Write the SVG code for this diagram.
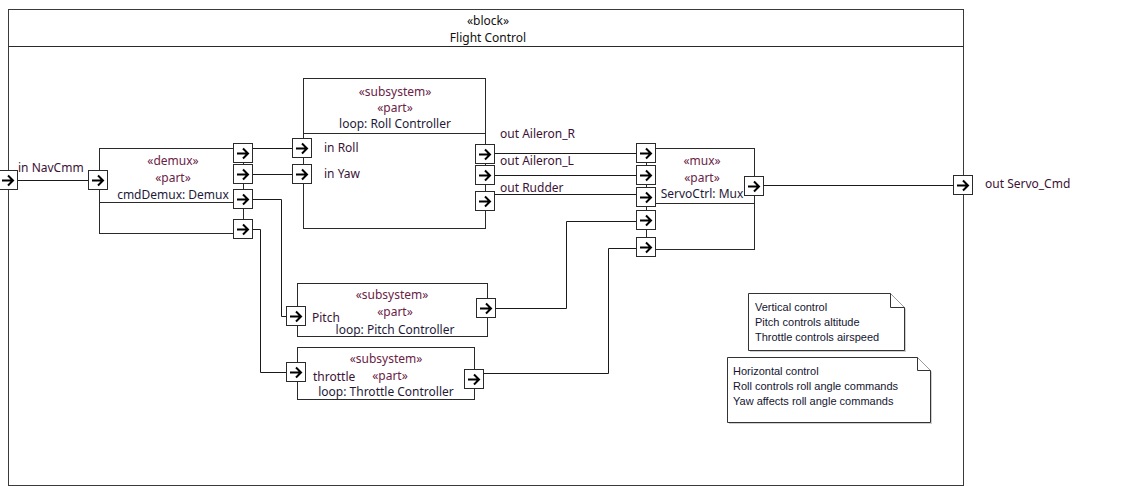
<svg xmlns="http://www.w3.org/2000/svg" xmlns:xlink="http://www.w3.org/1999/xlink" width="1134" height="486" viewBox="0 0 1134 486">
  <style>
    .frame { fill: #ffffff; stroke: #3a3a3a; stroke-width: 1; }
    .box { fill: #ffffff; stroke: #2a2a2a; stroke-width: 1; }
    .sep { fill: none; stroke: #2a2a2a; stroke-width: 1; }
    .conn { fill: none; stroke: #1a1a1a; stroke-width: 1; }
    .t { font-family: "Noto Sans", "DejaVu Sans", sans-serif; font-size: 12px; fill: #1e1a3a; }
    .st { font-family: "Noto Sans", "DejaVu Sans", sans-serif; font-size: 12px; fill: #6a2346; }
    .pl { font-family: "Noto Sans", "DejaVu Sans", sans-serif; font-size: 12px; fill: #3c1236; }
    .hd { font-family: "Noto Sans", "DejaVu Sans", sans-serif; font-size: 12px; fill: #111111; }
    .c { text-anchor: middle; }
    .note { fill: #ffffff; stroke: #333333; stroke-width: 1; }
    .shadow { fill: #cfcfcf; stroke: none; }
    .nt { font-family: "Liberation Sans", Arial, sans-serif; font-size: 11px; fill: #141430; }
  </style>
  <defs>
    <g id="port">
      <rect x="0.5" y="0.5" width="19" height="19" fill="#ffffff" stroke="#2a2a2a" stroke-width="1"/>
      <path d="M4 10.5H15M10 5.5L15 10.5L10 15.5" fill="none" stroke="#000000" stroke-width="2"/>
    </g>
  </defs>

  <!-- outer block frame -->
  <g id="flight-control">
    <rect class="frame" x="8.5" y="9.5" width="955" height="476"/>
    <line class="sep" x1="8.5" y1="46.5" x2="963.5" y2="46.5"/>
    <text class="hd c" x="488" y="25">«block»</text>
    <text class="hd c" x="488" y="42">Flight Control</text>
  </g>

  <!-- connectors -->
  <g id="connectors">
    <path class="conn" d="M18 180.5H88"/>
    <path class="conn" d="M253 148.5H292"/>
    <path class="conn" d="M253 174.5H292"/>
    <path class="conn" d="M253 199.5H281.5V316.5H286"/>
    <path class="conn" d="M253 229.5H260.5V372.5H286"/>
    <path class="conn" d="M495 153.5H636"/>
    <path class="conn" d="M495 175.5H636"/>
    <path class="conn" d="M495 194.5H636"/>
    <path class="conn" d="M496 308.5H566.5V221.5H636"/>
    <path class="conn" d="M484 373.5H608.5V248.5H636"/>
    <path class="conn" d="M764 185.5H953"/>
  </g>

  <!-- frame ports -->
  <g id="port-in-navcmm">
    <use xlink:href="#port" x="-2" y="170"/>
    <text class="pl" x="18" y="172">in NavCmm</text>
  </g>
  <g id="port-out-servo-cmd">
    <use xlink:href="#port" x="953" y="175"/>
    <text class="pl" x="985" y="188">out Servo_Cmd</text>
  </g>

  <!-- demux -->
  <g id="cmdDemux">
    <rect class="box" x="99.5" y="148.5" width="144" height="85"/>
    <line class="sep" x1="99.5" y1="202.5" x2="243.5" y2="202.5"/>
    <text class="st c" x="173" y="165">«demux»</text>
    <text class="st c" x="173" y="182">«part»</text>
    <text class="t c" x="173" y="199">cmdDemux: Demux</text>
    <use xlink:href="#port" x="88" y="170"/>
    <use xlink:href="#port" x="233" y="143"/>
    <use xlink:href="#port" x="233" y="164"/>
    <use xlink:href="#port" x="233" y="189"/>
    <use xlink:href="#port" x="233" y="219"/>
  </g>

  <!-- roll controller -->
  <g id="roll-controller">
    <rect class="box" x="303.5" y="78.5" width="182" height="150"/>
    <line class="sep" x1="303.5" y1="133.5" x2="485.5" y2="133.5"/>
    <text class="st c" x="395" y="96">«subsystem»</text>
    <text class="st c" x="395" y="112">«part»</text>
    <text class="t c" x="395" y="128">loop: Roll Controller</text>
    <use xlink:href="#port" x="292" y="138"/>
    <use xlink:href="#port" x="292" y="164"/>
    <text class="pl" x="324" y="152">in Roll</text>
    <text class="pl" x="324" y="178">in Yaw</text>
    <use xlink:href="#port" x="475" y="144"/>
    <use xlink:href="#port" x="475" y="165"/>
    <use xlink:href="#port" x="475" y="191"/>
    <text class="pl" x="500" y="138">out Aileron_R</text>
    <text class="pl" x="500" y="165">out Aileron_L</text>
    <text class="pl" x="500" y="192">out Rudder</text>
  </g>

  <!-- mux -->
  <g id="servoCtrl">
    <rect class="box" x="646.5" y="148.5" width="108" height="101"/>
    <line class="sep" x1="646.5" y1="203.5" x2="754.5" y2="203.5"/>
    <text class="st c" x="702" y="165">«mux»</text>
    <text class="st c" x="702" y="182">«part»</text>
    <text class="t c" x="702" y="198">ServoCtrl: Mux</text>
    <use xlink:href="#port" x="636" y="143"/>
    <use xlink:href="#port" x="636" y="165"/>
    <use xlink:href="#port" x="636" y="187"/>
    <use xlink:href="#port" x="636" y="210"/>
    <use xlink:href="#port" x="636" y="237"/>
    <use xlink:href="#port" x="744" y="176"/>
  </g>

  <!-- pitch controller -->
  <g id="pitch-controller">
    <rect class="box" x="297.5" y="283.5" width="190" height="53"/>
    <text class="st c" x="392" y="299">«subsystem»</text>
    <text class="st c" x="395" y="316">«part»</text>
    <text class="t c" x="395" y="334">loop: Pitch Controller</text>
    <use xlink:href="#port" x="286" y="306"/>
    <text class="pl" x="312" y="322">Pitch</text>
    <use xlink:href="#port" x="476" y="298"/>
  </g>

  <!-- throttle controller -->
  <g id="throttle-controller">
    <rect class="box" x="297.5" y="347.5" width="177" height="52"/>
    <text class="st c" x="386" y="363">«subsystem»</text>
    <text class="pl" x="313" y="381">throttle</text>
    <text class="st c" x="390" y="380">«part»</text>
    <text class="t c" x="386" y="396">loop: Throttle Controller</text>
    <use xlink:href="#port" x="286" y="362"/>
    <use xlink:href="#port" x="464" y="369"/>
  </g>

  <!-- notes -->
  <g id="note-vertical">
    <path class="shadow" d="M750 295H892L906 309V352H750Z"/>
    <path class="note" d="M748.5 293.5H890.5L904.5 307.5V350.5H748.5Z"/>
    <path class="note" d="M890.5 293.5V307.5H904.5" fill="none"/>
    <text class="nt" x="755" y="311">Vertical control</text>
    <text class="nt" x="755" y="326">Pitch controls altitude</text>
    <text class="nt" x="755" y="341">Throttle controls airspeed</text>
  </g>
  <g id="note-horizontal">
    <path class="shadow" d="M729 359H919L932 372V424H729Z"/>
    <path class="note" d="M727.5 357.5H917.5L930.5 370.5V422.5H727.5Z"/>
    <path class="note" d="M917.5 357.5V370.5H930.5" fill="none"/>
    <text class="nt" x="733" y="375">Horizontal control</text>
    <text class="nt" x="733" y="390">Roll controls roll angle commands</text>
    <text class="nt" x="733" y="405">Yaw affects roll angle commands</text>
  </g>
</svg>
